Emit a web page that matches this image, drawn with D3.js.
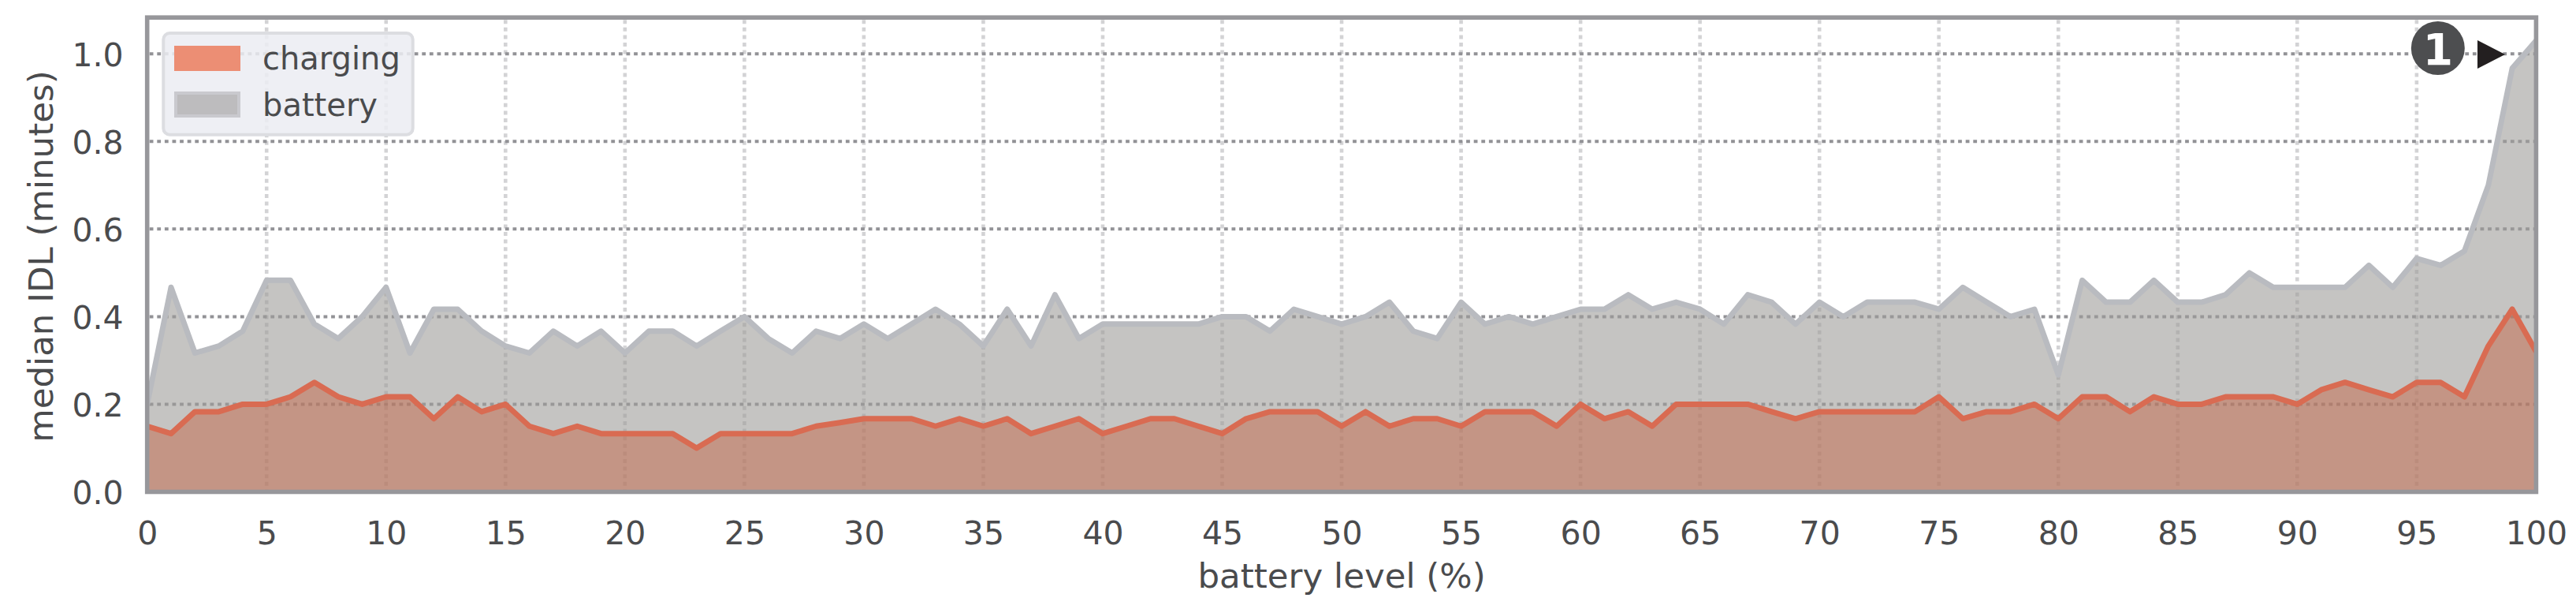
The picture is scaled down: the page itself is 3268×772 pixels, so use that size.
<!DOCTYPE html>
<html>
<head>
<meta charset="utf-8">
<style>
html,body{margin:0;padding:0;background:#fff;}
svg{display:block;}
text{font-family:"DejaVu Sans",sans-serif;fill:#4a4b4d;}
</style>
<script src="https://cdn.jsdelivr.net/npm/d3@7"></script>
</head>
<body>
<svg id="chart" width="3268" height="772"></svg>
<script>
const charging = [.15,.133,.183,.183,.2,.2,.217,.25,.217,.2,.217,.217,.167,.217,.183,.2,.15,.133,.15,.133,
.133,.133,.133,.1,.133,.133,.133,.133,.15,.158,.167,.167,.167,.15,.167,.15,.167,.133,.15,.167,
.133,.15,.167,.167,.15,.133,.167,.183,.183,.183,.15,.183,.15,.167,.167,.15,.183,.183,.183,.15,
.2,.167,.183,.15,.2,.2,.2,.2,.183,.167,.183,.183,.183,.183,.183,.217,.167,.183,.183,.2,
.167,.217,.217,.183,.217,.2,.2,.217,.217,.217,.2,.233,.25,.233,.217,.25,.25,.217,.333,.417,.32];
const battery = [.2,.467,.317,.333,.367,.483,.483,.383,.35,.4,.467,.317,.417,.417,.367,.333,.317,.367,.333,.367,
.317,.367,.367,.333,.367,.4,.35,.317,.367,.35,.383,.35,.383,.417,.383,.333,.417,.333,.45,.35,
.383,.383,.383,.383,.383,.4,.4,.367,.417,.4,.383,.4,.433,.367,.35,.433,.383,.4,.383,.4,
.417,.417,.45,.417,.433,.417,.383,.45,.433,.383,.433,.4,.433,.433,.433,.417,.467,.433,.4,.417,
.267,.483,.433,.433,.483,.433,.433,.45,.5,.467,.467,.467,.467,.517,.467,.533,.517,.55,.7,.967,1.03];
const levels = d3.range(0,101);
const xTicks = d3.range(0,101,5);
const yTicks = [0,.2,.4,.6,.8,1];
const legendLabels = ["charging","battery"];
const xLabel = "battery level (%)";
const yLabel = "median IDL (minutes)";

const L=186.7,R=3217.4,T=22.2,B=623.5;
const x=d3.scaleLinear().domain([0,100]).range([L,R]);
const y=d3.scaleLinear().domain([0,1.083]).range([B,T]);
const svg=d3.select("#chart");
const frameCol="#97979b", tickFont=41, labelFont=43.5;

svg.append("defs").append("clipPath").attr("id","plot")
  .append("rect").attr("x",L).attr("y",T).attr("width",R-L).attr("height",B-T);

// grid
const g=svg.append("g").attr("clip-path","url(#plot)");
g.selectAll("line.v").data(xTicks.slice(1,-1)).join("line").attr("class","v")
  .attr("x1",d=>x(d)).attr("x2",d=>x(d)).attr("y1",T+3).attr("y2",B)
  .attr("stroke","#d3d3d5").attr("stroke-width",4.6).attr("stroke-dasharray","5 4.6");
g.selectAll("line.h").data(yTicks.slice(1)).join("line").attr("class","h")
  .attr("x1",L+3).attr("x2",R).attr("y1",d=>y(d)).attr("y2",d=>y(d))
  .attr("stroke","#929296").attr("stroke-width",4).attr("stroke-dasharray","4.8 4.8");

// series
const area=s=>d3.area().x((d,i)=>x(levels[i])).y0(y(0)).y1(d=>y(d))(s);
const line=s=>d3.line().x((d,i)=>x(levels[i])).y(d=>y(d))(s);
g.append("path").attr("d",area(battery)).attr("fill","rgb(158,157,153)").attr("fill-opacity",.6);
g.append("path").attr("d",line(battery)).attr("fill","none").attr("stroke","#b9bbc0").attr("stroke-width",7).attr("stroke-linejoin","round");
g.append("path").attr("d",area(charging)).attr("fill","rgb(195,102,72)").attr("fill-opacity",.5);
g.append("path").attr("d",line(charging)).attr("fill","none").attr("stroke","#d96b52").attr("stroke-width",7).attr("stroke-linejoin","round");

// frame
svg.append("rect").attr("x",L).attr("y",T).attr("width",R-L).attr("height",B-T)
  .attr("fill","none").attr("stroke",frameCol).attr("stroke-width",5.6);

// axes
const ax=svg.append("g").attr("transform",`translate(0,${B})`)
  .call(d3.axisBottom(x).tickValues(xTicks).tickSize(0).tickPadding(0).tickFormat(d3.format("d")));
ax.select(".domain").remove();
ax.selectAll("text").attr("y",0).attr("dy",0).attr("transform","translate(0,66)").attr("font-size",tickFont).style("font-family",'"DejaVu Sans"');
const ay=svg.append("g").attr("transform",`translate(${L},0)`)
  .call(d3.axisLeft(y).tickValues(yTicks).tickSize(0).tickPadding(0).tickFormat(d3.format(".1f")));
ay.select(".domain").remove();
ay.selectAll("text").attr("x",-30).attr("dy",0).attr("transform","translate(0,15)").attr("font-size",tickFont).style("font-family",'"DejaVu Sans"');

svg.append("text").attr("x",(L+R)/2).attr("y",745).attr("text-anchor","middle").attr("font-size",labelFont).text(xLabel);
svg.append("text").attr("transform","translate(67,325) rotate(-90)").attr("text-anchor","middle").attr("font-size",labelFont).text(yLabel);

// legend
const lg=svg.append("g");
lg.append("rect").attr("x",207.3).attr("y",42).attr("width",316.4).attr("height",128.7).attr("rx",8)
  .attr("fill","rgb(235,236,242)").attr("fill-opacity",.85).attr("stroke","#dcdde1").attr("stroke-width",4);
lg.append("rect").attr("x",221).attr("y",58).attr("width",84).attr("height",32).attr("fill","#ec8e74");
lg.append("rect").attr("x",223).attr("y",118).attr("width",80).attr("height",29).attr("fill","#bdbcbe").attr("stroke","#c9c9ce").attr("stroke-width",4);
lg.selectAll("text").data(legendLabels).join("text")
  .attr("x",333).attr("y",(d,i)=>i?146.7:88.3).attr("font-size",40).text(d=>d);

// annotation
const ann=svg.append("g");
const cx=x(95.89), cy=y(1.0)-7.3;
ann.append("circle").attr("cx",cx).attr("cy",cy).attr("r",34).attr("fill","#4d4e50");
ann.append("text").attr("x",cx).attr("y",cy+20.7).attr("text-anchor","middle").attr("font-size",55).attr("font-weight","bold").style("fill","#fff").text("1");
const tipX=x(98.7), ty=y(1.0)+0.7;
ann.append("path").attr("d",d3.line()([[tipX-35,ty-18],[tipX,ty],[tipX-35,ty+18]])+"Z").attr("fill","#231f20");
</script>
</body>
</html>
